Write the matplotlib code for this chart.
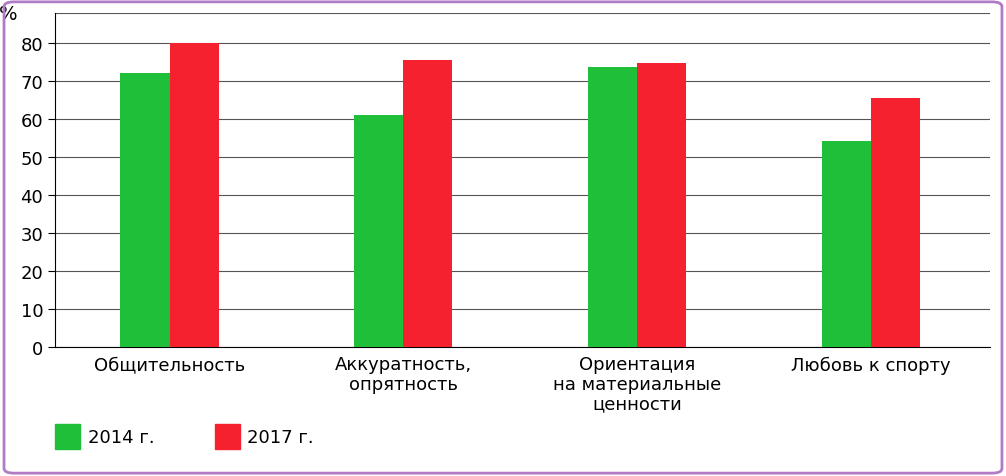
import matplotlib
matplotlib.use("Agg")
import matplotlib.pyplot as plt
from matplotlib.patches import FancyBboxPatch
import numpy as np

categories = ["Общительность", "Аккуратность,\nопрятность", "Ориентация\nна материальные\nценности", "Любовь к спорту"]
v2014 = [72.2, 61.2, 73.8, 54.2]
v2017 = [80.0, 75.7, 74.9, 65.5]
yticks = [0, 10, 20, 30, 40, 50, 60, 70, 80]
green = "#1fbf3a"; red = "#f5212f"

fig = plt.figure(figsize=(10.06, 4.77), dpi=100)
fig.patch.set_facecolor("white")
fig.patches.append(FancyBboxPatch((0.004, 0.006), 0.992, 0.988, boxstyle="round,pad=0,rounding_size=0.01",
                                  transform=fig.transFigure, fill=False, edgecolor="#b07cc6", linewidth=2))
ax = fig.add_axes([0.0547, 0.2704, 0.9293, 0.7])
x = np.arange(len(categories))
w = 0.21
ax.bar(x - w/2, v2014, w, color=green, zorder=3)
ax.bar(x + w/2, v2017, w, color=red, zorder=3)
ax.set_xlim(-0.49, 3.51)
ax.set_ylim(0, 88)
ax.set_yticks(yticks)
ax.yaxis.grid(True, color="#555555", linewidth=0.8, zorder=0)
ax.set_xticks(x)
ax.set_xticklabels(categories, fontsize=13, linespacing=1.1)
ax.tick_params(axis="y", labelsize=13, length=5)
ax.tick_params(axis="x", length=0, pad=6)
for s in ["top", "right"]:
    ax.spines[s].set_visible(False)
ax.axhline(88, color="#555555", linewidth=0.8)
ax.text(-0.06, 1.0, "%", transform=ax.transAxes, fontsize=14, ha="left", va="center")
fig.patches.append(plt.Rectangle((0.055, 0.056), 0.025, 0.052, color=green, transform=fig.transFigure))
fig.text(0.087, 0.082, "2014 г.", fontsize=13, va="center")
fig.patches.append(plt.Rectangle((0.214, 0.056), 0.025, 0.052, color=red, transform=fig.transFigure))
fig.text(0.246, 0.082, "2017 г.", fontsize=13, va="center")
fig.savefig("out.png", dpi=100)
